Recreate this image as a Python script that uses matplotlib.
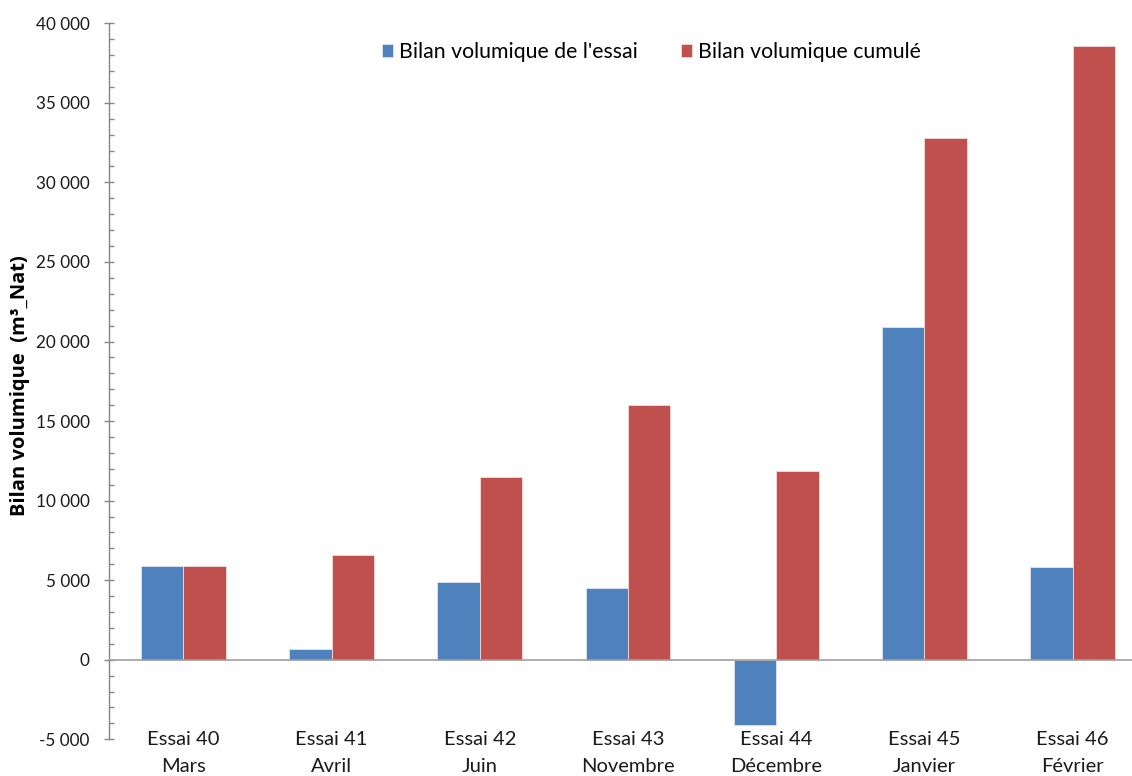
import matplotlib
matplotlib.use("Agg")
import matplotlib.pyplot as plt
import numpy as np
from matplotlib.ticker import MultipleLocator, FuncFormatter

categories = ["Essai 40\nMars", "Essai 41\nAvril", "Essai 42\nJuin", "Essai 43\nNovembre",
              "Essai 44\nDécembre", "Essai 45\nJanvier", "Essai 46\nFévrier"]
bilan_essai = [5900, 650, 4900, 4500, -4130, 20900, 5800]
bilan_cumule = [5900, 6600, 11500, 16000, 11870, 32800, 38600]
series_names = ["Bilan volumique de l'essai", "Bilan volumique cumulé"]
colors = ["#4F81BD", "#C0504D"]

plt.rcParams['font.family'] = ['Lato', 'DejaVu Sans']

W, H = 1132, 776
fig = plt.figure(figsize=(W / 100, H / 100), dpi=100)
left = 109.3 / W
right = 1146.7 / W
top = 1 - 23.3 / H
bottom = 1 - 739.3 / H
ax = fig.add_axes([left, bottom, right - left, top - bottom])

x = np.arange(len(categories))
bw = 1 / 3.5
ax.bar(x - bw / 2, bilan_essai, width=bw, color=colors[0], edgecolor="#DCE6F2", linewidth=0.6,
       label=series_names[0], zorder=2)
ax.bar(x + bw / 2, bilan_cumule, width=bw, color=colors[1], edgecolor="#F2DCDB", linewidth=0.6,
       label=series_names[1], zorder=2)

ax.set_xlim(-0.5, len(categories) - 0.5)
ax.set_ylim(-5000, 40000)
ax.axhline(0, color="#A0A0A0", linewidth=1.2, zorder=3)

for s in ["top", "right", "bottom"]:
    ax.spines[s].set_visible(False)
ax.spines["left"].set_color("#868686")
ax.spines["left"].set_linewidth(1.0)

ax.yaxis.set_major_locator(MultipleLocator(5000))
ax.yaxis.set_minor_locator(MultipleLocator(1000))
ax.yaxis.set_major_formatter(FuncFormatter(lambda v, p: f"{int(v):,}".replace(",", " ")))
ax.tick_params(axis="y", which="major", direction="inout", length=7.2, width=1.0,
               color="#868686", labelsize=12.3, pad=10.5, labelcolor="#1a1a1a")
ax.tick_params(axis="y", which="minor", direction="in", length=3.6, width=1.0, color="#868686")

ax.set_xticks([])
for i, lab in enumerate(categories):
    ax.annotate(lab, xy=(x[i], -5000), xytext=(0, -10), textcoords="offset points",
                ha="center", va="center", fontsize=14.5, linespacing=1.75, color="#1a1a1a",
                annotation_clip=False)

ax.set_ylabel("Bilan volumique  (m³_Nat)", fontsize=14.5, fontweight="bold",
              family=["Open Sans", "DejaVu Sans"])
ax.yaxis.set_label_coords((30 - 109.3) / 1037.4, (739.3 - 386) / 716)

leg = ax.legend(loc="center", bbox_to_anchor=(651.5 / W, 1 - 52 / H), bbox_transform=fig.transFigure,
                ncol=2, frameon=False, fontsize=15.3, handlelength=0.55, handleheight=0.55,
                handletextpad=0.28, columnspacing=2.0, borderpad=0)

fig.savefig("out.png", dpi=100)
